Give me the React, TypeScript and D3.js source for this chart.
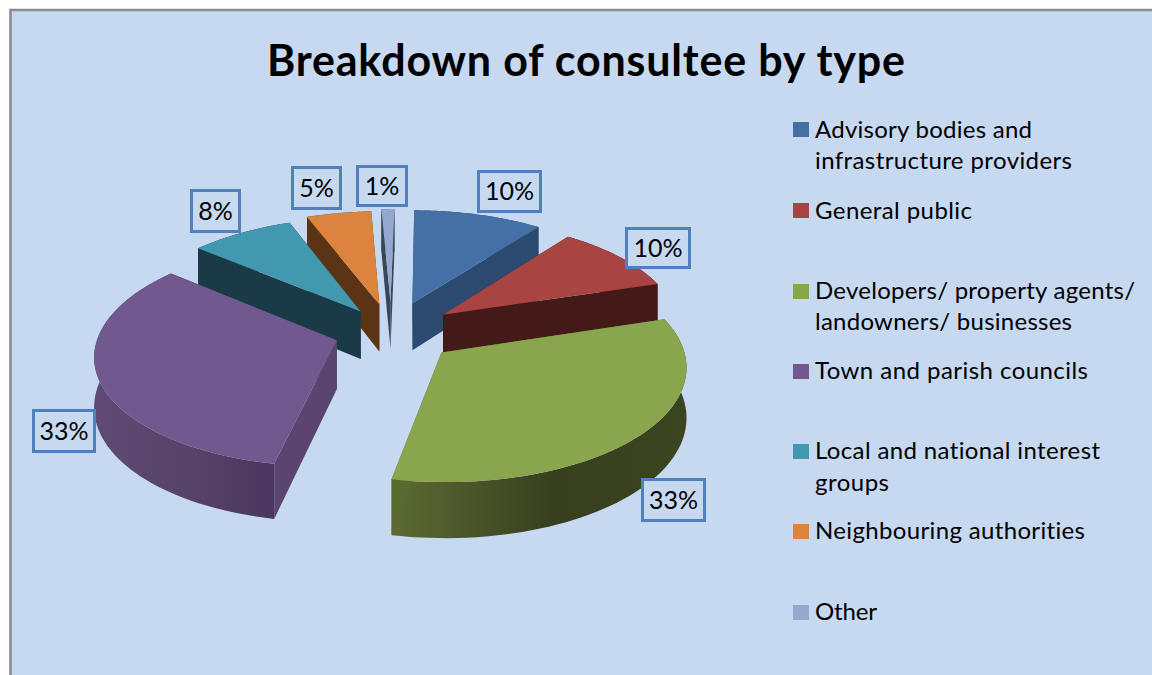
import React from "react";
import * as d3 from "d3";

// Consultee breakdown, in percent
const categories = [
  "Advisory bodies and infrastructure providers",
  "General public",
  "Developers/ property agents/ landowners/ businesses",
  "Town and parish councils",
  "Local and national interest groups",
  "Neighbouring authorities",
  "Other",
];
const shares = [10, 10, 33, 33, 8, 5, 1];
const explosion = [0.28, 0.27, 0.28, 0.24, 0.23, 0.26, 0.28];

const topColors = ["#4470A5", "#A84441", "#89A54E", "#71588F", "#4198AF", "#DB843D", "#93A9CF"];
const wallColors = ["#2C4A70", "#431A18", "#5A6B30", "#5C4470", "#193A46", "#5A3415", "#3A4658"];
const rimStops = [
  ["#2C4A70", "#2C4A70", "#2C4A70"],
  ["#431A18", "#431A18", "#431A18"],
  ["#5C6B33", "#373F1F", "#3B4520"],
  ["#5F4A75", "#574268", "#4A365E"],
  ["#193A46", "#193A46", "#193A46"],
  ["#5A3415", "#5A3415", "#5A3415"],
  ["#3A4658", "#3A4658", "#3A4658"],
];

// Legend rows: wrapped lines of each category with their fitted widths
const legendLines = [
  [["Advisory bodies and", 217], ["infrastructure providers", 257]],
  [["General public", 157]],
  [["Developers/ property agents/", 320], ["landowners/ businesses", 257]],
  [["Town and parish councils", 273]],
  [["Local and national interest", 285], ["groups", 74]],
  [["Neighbouring authorities", 270]],
  [["Other", 62]],
] as [string, number][][];
const legendSwatchY = [122, 203, 284, 364, 444, 524, 605];
const legendBaselines = [[138, 169], [219], [299, 330], [379], [459, 491], [539], [620]];

// Outer edges of the value label boxes
const labelBoxes = [
  [477, 170, 542, 213],
  [625, 227, 691, 269],
  [641, 478, 706, 522],
  [32, 409, 96, 453],
  [190, 189, 241, 233],
  [291, 166, 342, 210],
  [356, 165, 408, 207],
];

// Camera for the tilted pie: depth, focal scale, camera height and horizon
const CAM = { depth: 8.77, focal: 2085, height: 8433, horizon: -630, vanishX: 412, shiftX: -0.087, thick: 425 };
const FIRST_SLICE_ANGLE = (0.5 * Math.PI) / 180;

function project(x: number, z: number, bottom: boolean): [number, number] {
  const d = CAM.depth + z;
  return [
    CAM.vanishX + (CAM.focal * (x + CAM.shiftX)) / d,
    CAM.horizon + (CAM.height + (bottom ? CAM.thick : 0)) / d,
  ];
}

const FONT = "Lato, 'Open Sans', sans-serif";
const line = d3.line().curve(d3.curveLinearClosed);
const arcs = d3
  .pie<number>()
  .sort(null)
  .startAngle(FIRST_SLICE_ANGLE)
  .endAngle(FIRST_SLICE_ANGLE + 2 * Math.PI)(shares);

const slices = arcs.map((a, i) => {
  const mid = (a.startAngle + a.endAngle) / 2;
  const ox = explosion[i] * Math.sin(mid);
  const oz = explosion[i] * Math.cos(mid);
  const rim = (t: number, bottom: boolean) => project(ox + Math.sin(t), oz + Math.cos(t), bottom);
  const steps = d3.range(0, 61).map((k) => a.startAngle + ((a.endAngle - a.startAngle) * k) / 60);
  const apexTop = project(ox, oz, false);
  const apexBottom = project(ox, oz, true);
  const topArc = steps.map((t) => rim(t, false));
  const bottomArc = steps.map((t) => rim(t, true));
  const xs = topArc.map((p) => p[0]);
  return {
    i,
    depth: oz,
    top: line([apexTop, ...topArc]) as string,
    outer: line([...topArc, ...[...bottomArc].reverse()]) as string,
    wallStart: line([apexTop, topArc[0], bottomArc[0], apexBottom]) as string,
    wallEnd: line([apexTop, topArc[60], bottomArc[60], apexBottom]) as string,
    x0: d3.min(xs) as number,
    x1: d3.max(xs) as number,
  };
});
const paintOrder = d3.sort(slices, (s) => -s.depth);

export default function App() {
  return (
    <svg
      width={1152}
      height={675}
      style={{ position: "fixed", left: 0, top: 0, background: "#fff", fontVariantLigatures: "none" }}
      aria-label="Breakdown of consultee by type"
    >
      <defs>
        {slices.map((s) => (
          <linearGradient key={s.i} id={`rim${s.i}`} gradientUnits="userSpaceOnUse" x1={s.x0} x2={s.x1} y1={0} y2={0}>
            <stop offset="0" stopColor={rimStops[s.i][0]} />
            <stop offset="0.55" stopColor={rimStops[s.i][1]} />
            <stop offset="1" stopColor={rimStops[s.i][2]} />
          </linearGradient>
        ))}
      </defs>

      <rect x={10.5} y={10} width={1142} height={665} fill="#C6D9F1" />
      <path d="M10.5,675V10H1152" fill="none" stroke="#8C8C8C" strokeWidth={2.6} />

      <text x={267} y={76} fontFamily={FONT} fontWeight={700} fontSize={43} textLength={638} fill="#000">
        Breakdown of consultee by type
      </text>

      {paintOrder.map((s) => (
        <g key={s.i}>
          <path d={s.outer} fill={`url(#rim${s.i})`} />
          <path d={s.wallStart} fill={wallColors[s.i]} />
          <path d={s.wallEnd} fill={wallColors[s.i]} />
          <path d={s.top} fill={topColors[s.i]} />
        </g>
      ))}

      {shares.map((v, i) => {
        const [x0, y0, x1, y1] = labelBoxes[i];
        return (
          <g key={i}>
            <rect x={x0 + 1.5} y={y0 + 1.5} width={x1 - x0 - 3} height={y1 - y0 - 3} fill="#C6D9F1" stroke="#4F81BD" strokeWidth={3} />
            <text x={(x0 + x1) / 2} y={(y0 + y1) / 2 + 8.5} textAnchor="middle" fontFamily={FONT} fontSize={25} fill="#000">
              {`${v}%`}
            </text>
          </g>
        );
      })}

      {categories.map((c, i) => (
        <g key={c}>
          <rect x={793} y={legendSwatchY[i]} width={16} height={15} fill={topColors[i]} />
          {legendLines[i].map(([txt, w], k) => (
            <text key={k} x={815} y={legendBaselines[i][k]} fontFamily={FONT} fontSize={24} textLength={w} fill="#000">
              {txt}
            </text>
          ))}
        </g>
      ))}
    </svg>
  );
}
